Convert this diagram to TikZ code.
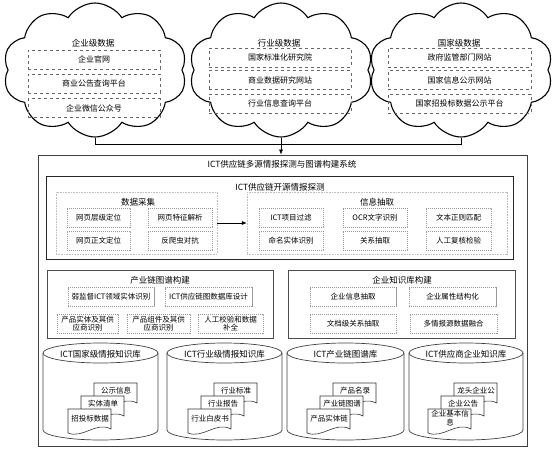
\documentclass[tikz,border=0pt]{standalone}
\usepackage{fontspec}
\setmainfont{Noto Sans CJK SC}
\usetikzlibrary{arrows.meta,shapes.symbols}

\tikzset{
  srccloud/.style={cloud, draw, line width=1.1pt, cloud puffs=10, cloud puff arc=115,
    cloud ignores aspect, minimum width=184pt, minimum height=134pt, inner sep=0pt},
  cloudtitle/.style={font=\fontsize{8.5}{10}\selectfont},
  srcbox/.style={draw=black!60, dashed, minimum width=#1, minimum height=19pt,
    inner sep=0pt, font=\fontsize{8}{9}\selectfont},
  sysbox/.style={draw=black!75, line width=0.8pt, inner sep=0pt},
  grouptitle/.style={font=\fontsize{8.5}{10}\selectfont},
  groupbox/.style={draw=black!25, dash pattern=on 1pt off 0.6pt, inner sep=0pt},
  taskbox/.style={draw=black!40, dash pattern=on 1.2pt off 0.8pt, minimum width=#1,
    minimum height=19pt, inner sep=0pt, align=center, font=\fontsize{7.5}{8.5}\selectfont},
  partbox/.style={draw=black!70, line width=0.8pt, inner sep=0pt},
  dbline/.style={draw=black!75, line width=0.7pt},
  dbtitle/.style={font=\fontsize{8.5}{10}\selectfont},
  docline/.style={draw=black!80, line width=0.6pt, fill=white},
  doctext/.style={font=\fontsize{7.5}{8.5}\selectfont, align=center, inner sep=0pt}
}

% one page of a document stack, top left corner at (#1,#2)
\newcommand\docpage[2]{%
  \draw[docline] (#1,#2) -- ++(43,0) -- ++(0,20)
    .. controls (#1+28,#2+12) and (#1+15,#2+30) .. (#1,#2+24) -- cycle;}

% cylinder from x=#1 to x=#2
\newcommand\dbcyl[2]{%
  \path[dbline] (#1,353) -- (#1,430)
    arc[start angle=180, end angle=360, x radius={(#2-#1)/2*1pt}, y radius=10pt] -- (#2,353);
  \draw[dbline] ({(#1+#2)/2},353) ellipse [x radius={(#2-#1)/2*1pt}, y radius=10pt];}

\begin{document}
\begin{tikzpicture}[x=1pt,y=-1pt]
\useasboundingbox (0,0) rectangle (555,456);

% data sources
\node[srccloud] (c1) at (95,70) {};
\node[srccloud] (c2) at (281,70) {};
\node[srccloud] (c3) at (461,70) {};

\node[cloudtitle] (c1t) at (93,43) {企业级数据};
\node[srcbox=132pt] (c1a) at (94,59.5) {企业官网};
\node[srcbox=132pt] (c1b) at (94,83.5) {商业公告查询平台};
\node[srcbox=132pt] (c1c) at (94,108) {企业微信公众号};

\node[cloudtitle] (c2t) at (279,43) {行业级数据};
\node[srcbox=142pt] (c2a) at (280,57.5) {国家标准化研究院};
\node[srcbox=142pt] (c2b) at (280,80) {商业数据研究网站};
\node[srcbox=142pt] (c2c) at (280,103.5) {行业信息查询平台};

\node[cloudtitle] (c3t) at (459,43) {国家级数据};
\node[srcbox=143pt] (c3a) at (459.5,57.5) {政府监管部门网站};
\node[srcbox=143pt] (c3b) at (459.5,80) {国家信息公示网站};
\node[srcbox=143pt] (c3c) at (459.5,103.5) {国家招投标数据公示平台};

% system
\node[sysbox, minimum width=489pt, minimum height=291pt] (sys) at (282.5,300.5) {};
\node[grouptitle] (syst) at (282,164) {ICT供应链多源情报探测与图谱构建系统};

\coordinate (bus) at (282,144);
\draw[line width=0.6pt] (c1.south) -- (c1.south |- bus) -- (c3.south |- bus) -- (c3.south);
\draw[line width=0.6pt, -{Latex[length=5pt,width=4pt]}] (c2.south) -- (c2.south |- sys.north);

% open source detection
\node[sysbox, draw=black!85, minimum width=467pt, minimum height=83pt] (osint) at (279.5,217.5) {};
\node[grouptitle] (osintt) at (280,187) {ICT供应链开源情报探测};

\node[groupbox, minimum width=161pt, minimum height=62pt] (collect) at (136.5,223) {};
\node[grouptitle] (collectt) at (138,202) {数据采集};
\node[taskbox=63pt] (col1) at (98.5,217.5) {网页层级定位};
\node[taskbox=64pt] (col2) at (180,217.5) {网页特征解析};
\node[taskbox=63pt] (col3) at (98.5,240.5) {网页正文定位};
\node[taskbox=64pt] (col4) at (180,240.5) {反爬虫对抗};

\node[groupbox, minimum width=260pt, minimum height=62pt] (extract) at (377,223) {};
\node[grouptitle] (extractt) at (377,202) {信息抽取};
\node[taskbox=64pt] (ext1) at (291,217.5) {ICT项目过滤};
\node[taskbox=64pt] (ext2) at (375,217.5) {OCR文字识别};
\node[taskbox=65pt] (ext3) at (458.5,217.5) {文本正则匹配};
\node[taskbox=64pt] (ext4) at (291,240.5) {命名实体识别};
\node[taskbox=64pt] (ext5) at (375,240.5) {关系抽取};
\node[taskbox=65pt] (ext6) at (458.5,240.5) {人工复核检验};

\draw[line width=0.6pt, -{Latex[length=5pt,width=4pt]}] (collect.east) -- (extract.west);

% industry chain graph
\node[partbox, minimum width=226pt, minimum height=68pt] (chain) at (160,304) {};
\node[grouptitle] (chaint) at (160,280) {产业链图谱构建};
\node[taskbox=86pt] (ch1) at (111,297) {弱监督ICT领域实体识别};
\node[taskbox=87pt] (ch2) at (208.5,297) {ICT供应链图数据库设计};
\node[taskbox=61pt] (ch3) at (87.5,323.5) {产品实体及其供\\应商识别};
\node[taskbox=63pt] (ch4) at (158.5,323.5) {产品组件及其供\\应商识别};
\node[taskbox=65pt] (ch5) at (230.5,323.5) {人工校验和数据\\补全};

% enterprise knowledge base
\node[partbox, minimum width=227pt, minimum height=68pt] (firm) at (401.5,304) {};
\node[grouptitle] (firmt) at (402,280) {企业知识库构建};
\node[taskbox=86pt] (fm1) at (353,297) {企业信息抽取};
\node[taskbox=87pt] (fm2) at (452.5,297) {企业属性结构化};
\node[taskbox=86pt] (fm3) at (353,323.5) {文档级关系抽取};
\node[taskbox=87pt] (fm4) at (453.5,323.5) {多情报源数据融合};

% knowledge bases
\dbcyl{43}{158}
\dbcyl{167}{282}
\dbcyl{287}{404}
\dbcyl{409}{523}
\node[dbtitle] (db1) at (100.5,354) {ICT国家级情报知识库};
\node[dbtitle] (db2) at (224.5,354) {ICT行业级情报知识库};
\node[dbtitle] (db3) at (345.5,354) {ICT产业链图谱库};
\node[dbtitle] (db4) at (466,354) {ICT供应商企业知识库};

\docpage{94}{383}
\docpage{81}{396}
\docpage{68}{409}
\node[doctext] (d1a) at (116,391) {公示信息};
\node[doctext] (d1b) at (103,404) {实体清单};
\node[doctext] (d1c) at (90,419) {招投标数据};

\docpage{214}{383}
\docpage{201}{396}
\docpage{188}{409}
\node[doctext] (d2a) at (236,391) {行业标准};
\node[doctext] (d2b) at (223,404) {行业报告};
\node[doctext] (d2c) at (210,419) {行业白皮书};

\docpage{333}{383}
\docpage{320}{396}
\docpage{307}{409}
\node[doctext] (d3a) at (355,391) {产品名录};
\node[doctext] (d3b) at (342,404) {产业链图谱};
\node[doctext] (d3c) at (329,419) {产品实体链};

\docpage{454}{383}
\docpage{441}{396}
\docpage{428}{409}
\node[doctext] (d4a) at (476,391) {龙头企业公};
\node[doctext] (d4b) at (463,404) {企业公告};
\node[doctext] (d4c) at (450,418) {企业基本信\\息};

\end{tikzpicture}
\end{document}
